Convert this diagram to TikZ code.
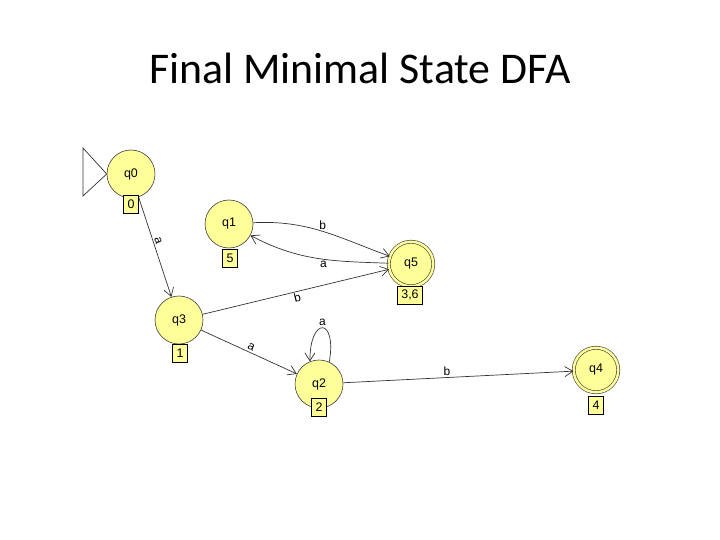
\documentclass[tikz,border=0pt]{standalone}
\usepackage{fontspec}
\setmainfont{Carlito}
\newfontfamily\jfont{Liberation Sans}
\usetikzlibrary{arrows.meta}
\definecolor{stfill}{RGB}{255,255,153}
\tikzset{
  state/.style={circle, draw=black!75, line width=0.6bp, fill=stfill, minimum size=48bp, inner sep=0pt, font=\jfont\fontsize{12.5}{14}\selectfont},
  accst/.style={state, double=stfill, double distance=2.5bp, minimum size=44.5bp},
  tagbox/.style={draw=black, line width=0.7bp, fill=stfill, inner sep=1.5bp, minimum height=18bp, minimum width=15bp, font=\jfont\fontsize{12.5}{14}\selectfont},
  edge/.style={draw=black!80, line width=0.7bp, -{Straight Barb[length=8bp,width=10bp]}},
  elab/.style={font=\jfont\fontsize{12}{13}\selectfont, inner sep=1.5bp}
}
\begin{document}
\begin{tikzpicture}[x=1bp,y=-1bp]
\useasboundingbox (0,0) rectangle (720,540);
\node (title) at (360,68) {\fontsize{44}{48}\selectfont Final Minimal State DFA};

% states
\node[state] (q0) at (131,174) {q0};
\node[state] (q1) at (229,224) {q1};
\node[accst] (q5) at (411,264) {q5};
\node[state] (q3) at (179,320) {q3};
\node[state] (q2) at (319,384) {q2};
\node[accst] (q4) at (596,370) {q4};

% initial triangle
\coordinate (t1) at (83,148);
\coordinate (t2) at (83,196);
\draw[black!80, line width=0.7bp] (t1) -- (q0.west) -- (t2) -- cycle;

% edges
\draw[edge] (q0) -- node[elab, sloped, above, pos=0.45] {a} (q3);
\draw[edge] (q1) to[out=3, in=160] node[elab, pos=0.5, above] {b} (q5);
\draw[edge] (q5) to[out=178, in=-28] node[elab, pos=0.45, below] {a} (q1);
\draw[edge] (q3) -- node[elab, sloped, pos=0.5, below] {b} (q5);
\draw[edge] (q3) -- node[elab, sloped, pos=0.5, above] {a} (q2);
\draw[edge] (q2.65) to[out=80, in=90, looseness=6] node[elab, above] {a} (q2.112);
\draw[edge] (q2) -- node[elab, pos=0.45, above] {b} (q4);

% tags
\node[tagbox] (g0) at (131,204) {0};
\node[tagbox] (g1) at (230,258) {5};
\node[tagbox, minimum width=25bp] (g5) at (410,295) {3,6};
\node[tagbox] (g3) at (180,353) {1};
\node[tagbox] (g2) at (319,407) {2};
\node[tagbox] (g4) at (596,405) {4};
\end{tikzpicture}
\end{document}
